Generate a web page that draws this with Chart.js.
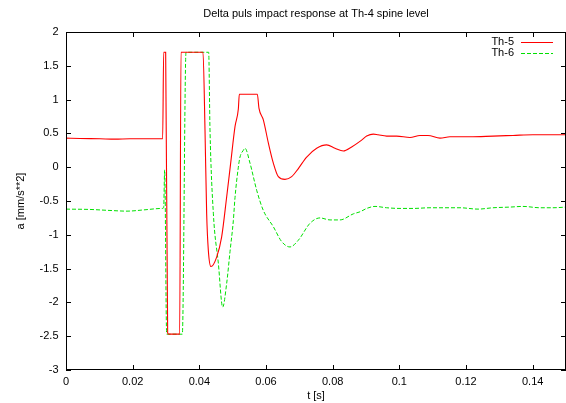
<!DOCTYPE html>
<html>
<head>
<meta charset="utf-8">
<script src="https://cdn.jsdelivr.net/npm/chart.js@4.4.1/dist/chart.umd.min.js"></script>
<style>
    html, body { margin: 0; padding: 0; background: #fff; }
    canvas { display: block; }
</style>
</head>
<body>
<canvas id="impactChart" width="566" height="403"></canvas>
<script>
// === Données ===
const tTh5 = [0, 0.0042, 0.0102, 0.0147, 0.0192, 0.0252, 0.0290, 0.0293, 0.0299, 0.0305, 0.0308, 0.0341,
    0.0345, 0.0411, 0.0417, 0.0422, 0.0427, 0.0435, 0.0452, 0.0467, 0.0482, 0.0494, 0.0507, 0.0517,
    0.0520, 0.0574, 0.0579, 0.0592, 0.0607, 0.0622, 0.0637, 0.0657, 0.0677, 0.0697, 0.0722, 0.0752,
    0.0782, 0.0807, 0.0832, 0.0857, 0.0887, 0.0902, 0.0922, 0.0936, 0.0962, 0.0992, 0.1032, 0.1062,
    0.1086, 0.1122, 0.1152, 0.1212, 0.1281, 0.1341, 0.1401, 0.15];
const aTh5 = [0.43, 0.425, 0.42, 0.415, 0.42, 0.42, 0.42, 1.70, 1.70, -2.45, -2.47, -2.47,
    1.70, 1.70, 0.55, -0.69, -1.23, -1.47, -1.33, -1.03, -0.44, 0.06, 0.6, 0.86,
    1.08, 1.08, 0.87, 0.7, 0.36, 0.06, -0.14, -0.18, -0.14, -0.02, 0.15, 0.28,
    0.33, 0.28, 0.24, 0.30, 0.40, 0.46, 0.49, 0.48, 0.46, 0.46, 0.44, 0.47,
    0.47, 0.43, 0.45, 0.45, 0.46, 0.47, 0.48, 0.48];

const tTh6 = [0, 0.0072, 0.0132, 0.0183, 0.0237, 0.0287, 0.0293, 0.0296, 0.0302, 0.0349, 0.0360, 0.0428,
    0.0432, 0.0442, 0.0457, 0.0470, 0.0482, 0.0492, 0.0502, 0.0507, 0.0517, 0.0522, 0.0532, 0.0537,
    0.0552, 0.0572, 0.0592, 0.0622, 0.0647, 0.0672, 0.0697, 0.0732, 0.0762, 0.0792, 0.0822, 0.0862,
    0.0882, 0.0902, 0.0927, 0.0962, 0.1002, 0.1041, 0.1092, 0.1152, 0.1182, 0.1236, 0.1281, 0.1332,
    0.1371, 0.1422, 0.1461, 0.15];
const aTh6 = [-0.62, -0.625, -0.64, -0.65, -0.63, -0.61, -0.60, -0.04, -2.47, -2.47, 1.70, 1.70,
    0.55, -0.68, -1.42, -2.07, -1.72, -1.25, -0.79, -0.45, 0.0, 0.15, 0.25, 0.28,
    0.06, -0.34, -0.64, -0.88, -1.10, -1.18, -1.08, -0.83, -0.75, -0.78, -0.78, -0.69,
    -0.66, -0.61, -0.58, -0.60, -0.61, -0.61, -0.60, -0.60, -0.60, -0.62, -0.60, -0.59,
    -0.58, -0.60, -0.60, -0.59];

const seriesNames = ['Th-5', 'Th-6'];
const xTicks = [0, 0.02, 0.04, 0.06, 0.08, 0.1, 0.12, 0.14];
const yTicks = [-3, -2.5, -2, -1.5, -1, -0.5, 0, 0.5, 1, 1.5, 2];

const police = { family: '"Liberation Sans", Arial, sans-serif', size: 11 };
const fmt = v => String(+Number(v).toFixed(4));

// === Cadre, graduations internes et légende (style gnuplot) ===
const cadrePlugin = {
    id: 'cadre',
    afterDraw(chart) {
        const { ctx, chartArea: a, scales: { x, y } } = chart;
        ctx.save();
        ctx.strokeStyle = '#000';
        ctx.lineWidth = 1;
        ctx.strokeRect(a.left + 0.5, a.top + 0.5, a.right - a.left - 1, a.bottom - a.top - 1);

        const len = 5;
        ctx.beginPath();
        xTicks.forEach(v => {
            const px = Math.round(x.getPixelForValue(v)) + 0.5;
            ctx.moveTo(px, a.bottom); ctx.lineTo(px, a.bottom - len);
            ctx.moveTo(px, a.top); ctx.lineTo(px, a.top + len);
        });
        yTicks.forEach(v => {
            const py = Math.round(y.getPixelForValue(v)) + 0.5;
            ctx.moveTo(a.left, py); ctx.lineTo(a.left + len, py);
            ctx.moveTo(a.right, py); ctx.lineTo(a.right - len, py);
        });
        ctx.stroke();

        // légende en haut à droite
        ctx.font = police.size + 'px ' + police.family;
        ctx.textAlign = 'right';
        ctx.textBaseline = 'middle';
        chart.data.datasets.forEach((ds, i) => {
            const ly = a.top + 10 + i * 11;
            ctx.fillStyle = '#000';
            ctx.fillText(ds.label, a.right - 52, ly);
            ctx.strokeStyle = ds.borderColor;
            ctx.setLineDash(ds.borderDash || []);
            ctx.beginPath();
            ctx.moveTo(a.right - 45, ly + 0.5);
            ctx.lineTo(a.right - 13, ly + 0.5);
            ctx.stroke();
        });
        ctx.restore();
    }
};

const ctx = document.getElementById('impactChart').getContext('2d');
new Chart(ctx, {
    type: 'line',
    data: {
        datasets: [
            {
                label: seriesNames[0],
                data: tTh5.map((t, i) => ({ x: t, y: aTh5[i] })),
                borderColor: '#ff0000',
                borderWidth: 1.1,
                pointRadius: 0,
                cubicInterpolationMode: 'monotone'
            },
            {
                label: seriesNames[1],
                data: tTh6.map((t, i) => ({ x: t, y: aTh6[i] })),
                borderColor: '#00e000',
                borderWidth: 1,
                borderDash: [4, 2],
                pointRadius: 0,
                cubicInterpolationMode: 'monotone'
            }
        ]
    },
    options: {
        responsive: false,
        animation: false,
        devicePixelRatio: 1,
        layout: { padding: { left: 0, right: 0, top: 0, bottom: 0 } },
        plugins: {
            legend: { display: false },
            tooltip: { enabled: false },
            title: {
                display: true,
                text: 'Delta puls impact response at Th-4 spine level',
                color: '#000',
                fullSize: false,
                font: { ...police, weight: 'normal' },
                padding: { top: 7.4, bottom: 11.4 }
            }
        },
        scales: {
            x: {
                type: 'linear',
                min: 0,
                max: 0.15,
                afterFit: s => { s.height = 33; },
                afterBuildTicks: s => { s.ticks = xTicks.map(v => ({ value: v })); },
                grid: { display: false, drawTicks: false },
                border: { display: false },
                ticks: { color: '#000', font: police, padding: 5, maxRotation: 0, callback: fmt },
                title: { display: true, text: 't [s]', color: '#000', font: police, padding: { top: 0, bottom: 0 } }
            },
            y: {
                type: 'linear',
                min: -3,
                max: 2,
                afterFit: s => { s.width = 66; },
                afterBuildTicks: s => { s.ticks = yTicks.map(v => ({ value: v })); },
                grid: { display: false, drawTicks: false },
                border: { display: false },
                ticks: { color: '#000', font: police, padding: 7.5, callback: fmt },
                title: { display: true, text: 'a [mm/s**2]', color: '#000', font: police, padding: { top: 14.5, bottom: 0 } }
            }
        }
    },
    plugins: [cadrePlugin]
});
</script>
</body>
</html>
